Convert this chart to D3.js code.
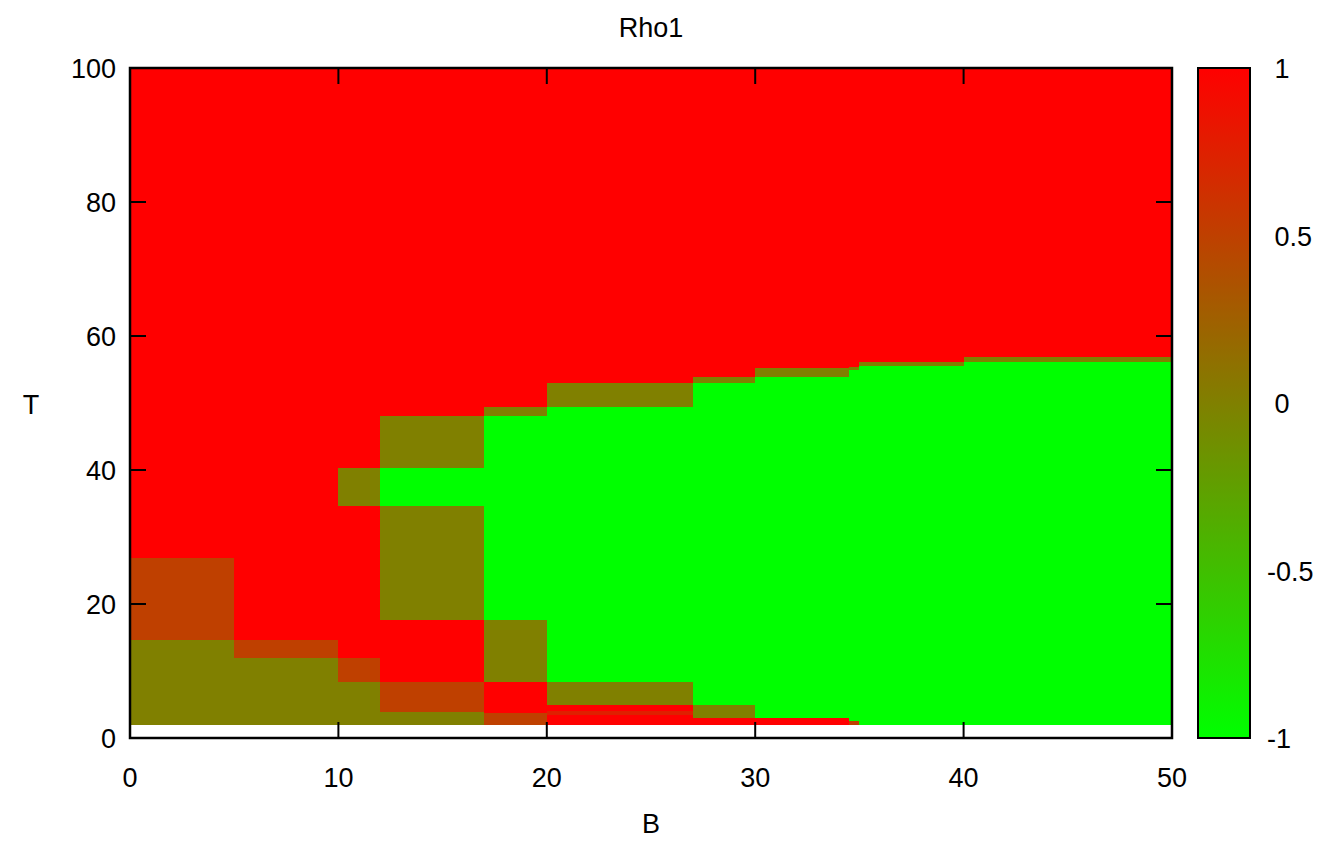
<!DOCTYPE html>
<meta charset="utf-8">
<style>
  body { margin: 0; background: #fff; }
  text { font-family: "Liberation Sans", Arial, Helvetica, sans-serif; font-size: 27px; fill: #000; white-space: pre; }
</style>
<svg width="1332" height="844"></svg>
<script src="https://cdn.jsdelivr.net/npm/d3@7/dist/d3.min.js"></script>
<script>

    // column edges along B
    var bEdges = [0, 5, 10, 12, 17, 20, 27, 30, 34.5, 35, 40, 50];

    // for every column: T break points, and the Rho1 value between them
    var tBreaks = [
        [2, 14.6, 26.9, 100],
        [2, 11.9, 14.6, 100],
        [2, 8.4, 11.9, 34.6, 40.3, 100],
        [2, 3.9, 8.4, 17.6, 34.6, 40.3, 48.1, 100],
        [2, 3.7, 8.4, 17.6, 48.1, 49.4, 100],
        [2, 3.4, 4.0, 4.9, 8.4, 49.4, 53.0, 100],
        [2, 3.0, 4.9, 53.0, 53.9, 100],
        [2, 3.0, 53.9, 55.2, 100],
        [2, 2.5, 55.0, 55.4, 100],
        [2, 55.5, 56.1, 100],
        [2, 56.1, 56.9, 100]
    ];
    var rho = [
        [0, 0.5, 1],
        [0, 0.5, 1],
        [0, 0.5, 1, 0, 1],
        [0, 0.5, 1, 0, -1, 0, 1],
        [0.5, 1, 0, -1, 0, 1],
        [1, 0.75, 1, 0, -1, 0, 1],
        [1, 0, -1, 0, 1],
        [1, -1, 0, 1],
        [0.5, -1, 0, 1],
        [-1, 0, 1],
        [-1, 0, 1]
    ];

    var xTicks = [0, 10, 20, 30, 40, 50];
    var yTicks = [0, 20, 40, 60, 80, 100];
    var cbTicks = [-1, -0.5, 0, 0.5, 1];

    var svg = d3.select("svg"),
        margin = {top: 68, left: 130, right: 160, bottom: 106},
        width = 1172 - margin.left,
        height = 738 - margin.top;

    var x = d3.scaleLinear().domain([0, 50]).range([0, width]);
    var y = d3.scaleLinear().domain([0, 100]).range([height, 0]);
    var color = d3.scaleLinear().domain([-1, 1]).range(["#00ff00", "#ff0000"]);

    var g = svg.append("g")
        .attr("transform", "translate(" + margin.left + "," + margin.top + ")");

    // build cells from the column arrays
    var cells = [];
    tBreaks.forEach(function(tb, i) {
        for (let k = 0; k < tb.length - 1; k++) {
            cells.push({b0: bEdges[i], b1: bEdges[i + 1], t0: tb[k], t1: tb[k + 1], v: rho[i][k]});
        }
    });

    g.selectAll("rect.cell")
        .data(cells)
        .enter().append("rect")
        .attr("class", "cell")
        .attr("x", d => x(d.b0))
        .attr("y", d => y(d.t1))
        .attr("width", d => x(d.b1) - x(d.b0))
        .attr("height", d => y(d.t0) - y(d.t1))
        .attr("fill", d => color(d.v))
        .attr("shape-rendering", "crispEdges");

    // ticks, mirrored and pointing inward
    var tl = 16;
    var tickG = g.append("g").attr("stroke", "#000").attr("stroke-width", 2);
    xTicks.forEach(function(t) {
        tickG.append("line").attr("x1", x(t)).attr("x2", x(t)).attr("y1", height).attr("y2", height - tl);
        tickG.append("line").attr("x1", x(t)).attr("x2", x(t)).attr("y1", 0).attr("y2", tl);
    });
    yTicks.forEach(function(t) {
        tickG.append("line").attr("x1", 0).attr("x2", tl).attr("y1", y(t)).attr("y2", y(t));
        tickG.append("line").attr("x1", width).attr("x2", width - tl).attr("y1", y(t)).attr("y2", y(t));
    });

    g.selectAll("text.xt")
        .data(xTicks)
        .enter().append("text")
        .attr("x", d => x(d))
        .attr("y", height + 49)
        .attr("text-anchor", "middle")
        .text(d => d);

    g.selectAll("text.yt")
        .data(yTicks)
        .enter().append("text")
        .attr("x", -14)
        .attr("y", d => y(d) + 10)
        .attr("text-anchor", "end")
        .text(d => d);

    g.append("rect")
        .attr("width", width).attr("height", height)
        .attr("fill", "none").attr("stroke", "#000").attr("stroke-width", 2.5);

    // colour box
    var cbx = 1198 - margin.left, cbw = 52;
    var cy = d3.scaleLinear().domain([-1, 1]).range([height, 0]);
    var grad = svg.append("defs").append("linearGradient")
        .attr("id", "cb").attr("x1", 0).attr("x2", 0).attr("y1", 1).attr("y2", 0);
    grad.selectAll("stop")
        .data(cbTicks)
        .enter().append("stop")
        .attr("offset", d => (d + 1) / 2)
        .attr("stop-color", d => color(d));

    g.append("rect")
        .attr("x", cbx).attr("y", 0).attr("width", cbw).attr("height", height)
        .attr("fill", "url(#cb)").attr("stroke", "#000").attr("stroke-width", 2);

    var cbt = 13;
    cbTicks.forEach(function(t) {
        tickG.append("line").attr("x1", cbx).attr("x2", cbx + cbt).attr("y1", cy(t)).attr("y2", cy(t));
        tickG.append("line").attr("x1", cbx + cbw).attr("x2", cbx + cbw - cbt).attr("y1", cy(t)).attr("y2", cy(t));
    });
    g.selectAll("text.ct")
        .data(cbTicks)
        .enter().append("text")
        .attr("x", 1267 - margin.left)
        .attr("y", d => cy(d) + 10)
        .text(d => (d < 0 ? "" : " ") + d);

    svg.append("text").attr("x", 651).attr("y", 37).attr("text-anchor", "middle").text("Rho1");
    svg.append("text").attr("x", 651).attr("y", 833).attr("text-anchor", "middle").text("B");
    svg.append("text").attr("x", 31).attr("y", 414).attr("text-anchor", "middle").text("T");

</script>
